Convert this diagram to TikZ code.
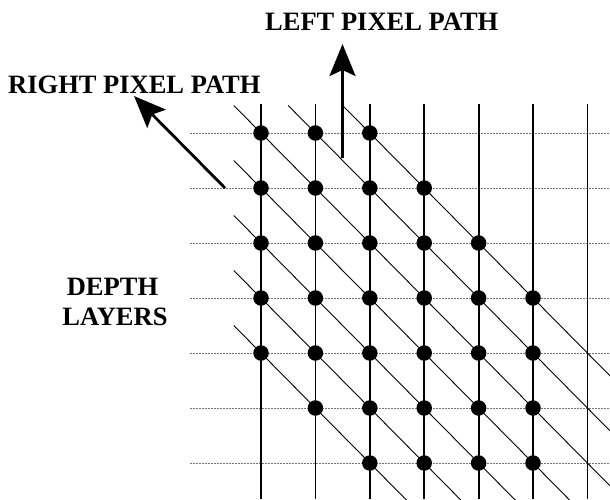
\documentclass[tikz,border=0pt]{standalone}
\usepackage{fontspec}
\setmainfont{Liberation Serif}
\usetikzlibrary{arrows.meta}
\begin{document}
\begin{tikzpicture}[x=1pt,y=-1pt,
 vline/.style={line width=1.8pt},
 dline/.style={line width=0.9pt},
 hline/.style={line width=1pt, black!55, dash pattern=on 2pt off 1pt},
 dot/.style={circle, fill=black, inner sep=0pt, minimum size=15.5pt},
 txt/.style={font=\fontsize{26.5}{29}\selectfont\bfseries, inner sep=0pt},
 bigarrow/.style={line width=2.8pt, -{Stealth[length=32pt,width=26pt,inset=6pt]}}]
\useasboundingbox (0,0) rectangle (610,499);
\def\cx{54.4}\def\ry{55}
\begin{scope}
\clip (0,0) rectangle (610,499);
% depth layers (horizontal)
\foreach \i in {0,...,6} \draw[hline] (190,{133+\ry*\i}) -- (610,{133+\ry*\i});
% vertical lines
\foreach \j in {0,...,6} \draw[vline] ({261+\cx*\j},104) -- ({261+\cx*\j},499);
% diagonal lines
\foreach \d in {0,1,2} \draw[dline] ({261+\cx*\d-\cx/2},{133-\ry/2}) -- ++({10*\cx},{10*\ry});
\foreach \d in {1,...,4} \draw[dline] ({261-\cx/2},{133+\ry*\d-\ry/2}) -- ++({10*\cx},{10*\ry});
\end{scope}
% dots
\foreach \i in {0,...,6} {
  \foreach \j in {0,...,5} {
    \pgfmathtruncatemacro\dd{\j-\i}
    \ifnum\dd<3 \ifnum\dd>-5
      \node[dot] (p\i\j) at ({261+\cx*\j},{133+\ry*\i}) {};
    \fi\fi
  }
}
% arrows
\coordinate (la0) at (342.5,158);
\coordinate (la1) at (342.5,44);
\draw[bigarrow] (la0) -- (la1);
\coordinate (ra0) at (225,188);
\coordinate (ra1) at (134,96);
\draw[bigarrow] (ra0) -- (ra1);
% labels
\node[txt, anchor=base west] (lt) at (265,30.7) {LEFT PIXEL PATH};
\node[txt, anchor=base west] (rt) at (8,93.5) {RIGHT PIXEL PATH};
\node[txt, anchor=base] (dt) at (112.5,295.7) {DEPTH};
\node[txt, anchor=base] (ly) at (115,325) {LAYERS};
\end{tikzpicture}
\end{document}
